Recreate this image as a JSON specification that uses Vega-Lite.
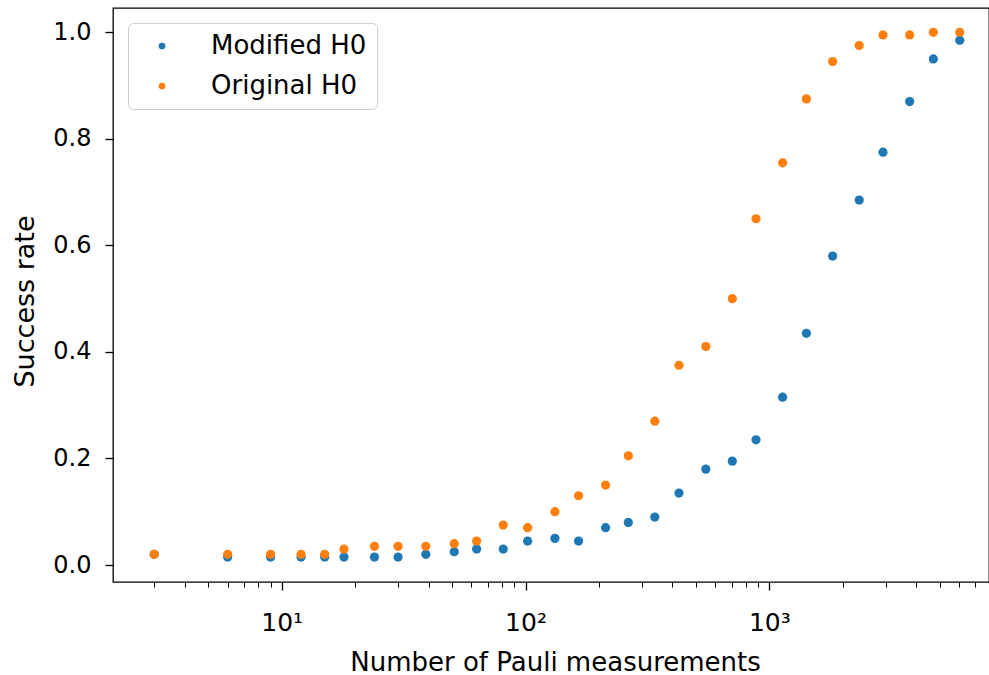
{
  "$schema": "https://vega.github.io/schema/vega-lite/v6.json",
  "width": 876,
  "height": 574,
  "autosize": {"type": "none"},
  "padding": {"left": 113, "top": 8, "right": 0, "bottom": 93},
  "background": "white",
  "config": {
    "view": {"stroke": "#000000", "strokeWidth": 1.3},
    "font": "DejaVu Sans",
    "axis": {"grid": false, "domain": false, "tickColor": "#000000", "labelColor": "#000000", "titleColor": "#000000", "labelFont": "DejaVu Sans", "titleFont": "DejaVu Sans", "titleFontWeight": "normal"}
  },
  "data": {
    "values": [
      {"n": 3, "rate": 0.02, "series": "Modified H0"},
      {"n": 6, "rate": 0.015, "series": "Modified H0"},
      {"n": 9, "rate": 0.015, "series": "Modified H0"},
      {"n": 12, "rate": 0.015, "series": "Modified H0"},
      {"n": 15, "rate": 0.015, "series": "Modified H0"},
      {"n": 18, "rate": 0.015, "series": "Modified H0"},
      {"n": 24, "rate": 0.015, "series": "Modified H0"},
      {"n": 30, "rate": 0.015, "series": "Modified H0"},
      {"n": 39, "rate": 0.02, "series": "Modified H0"},
      {"n": 51, "rate": 0.025, "series": "Modified H0"},
      {"n": 63, "rate": 0.03, "series": "Modified H0"},
      {"n": 81, "rate": 0.03, "series": "Modified H0"},
      {"n": 102, "rate": 0.045, "series": "Modified H0"},
      {"n": 132, "rate": 0.05, "series": "Modified H0"},
      {"n": 165, "rate": 0.045, "series": "Modified H0"},
      {"n": 213, "rate": 0.07, "series": "Modified H0"},
      {"n": 264, "rate": 0.08, "series": "Modified H0"},
      {"n": 339, "rate": 0.09, "series": "Modified H0"},
      {"n": 426, "rate": 0.135, "series": "Modified H0"},
      {"n": 549, "rate": 0.18, "series": "Modified H0"},
      {"n": 705, "rate": 0.195, "series": "Modified H0"},
      {"n": 882, "rate": 0.235, "series": "Modified H0"},
      {"n": 1134, "rate": 0.315, "series": "Modified H0"},
      {"n": 1419, "rate": 0.435, "series": "Modified H0"},
      {"n": 1818, "rate": 0.58, "series": "Modified H0"},
      {"n": 2337, "rate": 0.685, "series": "Modified H0"},
      {"n": 2925, "rate": 0.775, "series": "Modified H0"},
      {"n": 3765, "rate": 0.87, "series": "Modified H0"},
      {"n": 4707, "rate": 0.95, "series": "Modified H0"},
      {"n": 6039, "rate": 0.985, "series": "Modified H0"},
      {"n": 3, "rate": 0.02, "series": "Original H0"},
      {"n": 6, "rate": 0.02, "series": "Original H0"},
      {"n": 9, "rate": 0.02, "series": "Original H0"},
      {"n": 12, "rate": 0.02, "series": "Original H0"},
      {"n": 15, "rate": 0.02, "series": "Original H0"},
      {"n": 18, "rate": 0.03, "series": "Original H0"},
      {"n": 24, "rate": 0.035, "series": "Original H0"},
      {"n": 30, "rate": 0.035, "series": "Original H0"},
      {"n": 39, "rate": 0.035, "series": "Original H0"},
      {"n": 51, "rate": 0.04, "series": "Original H0"},
      {"n": 63, "rate": 0.045, "series": "Original H0"},
      {"n": 81, "rate": 0.075, "series": "Original H0"},
      {"n": 102, "rate": 0.07, "series": "Original H0"},
      {"n": 132, "rate": 0.1, "series": "Original H0"},
      {"n": 165, "rate": 0.13, "series": "Original H0"},
      {"n": 213, "rate": 0.15, "series": "Original H0"},
      {"n": 264, "rate": 0.205, "series": "Original H0"},
      {"n": 339, "rate": 0.27, "series": "Original H0"},
      {"n": 426, "rate": 0.375, "series": "Original H0"},
      {"n": 549, "rate": 0.41, "series": "Original H0"},
      {"n": 705, "rate": 0.5, "series": "Original H0"},
      {"n": 882, "rate": 0.65, "series": "Original H0"},
      {"n": 1134, "rate": 0.755, "series": "Original H0"},
      {"n": 1419, "rate": 0.875, "series": "Original H0"},
      {"n": 1818, "rate": 0.945, "series": "Original H0"},
      {"n": 2337, "rate": 0.975, "series": "Original H0"},
      {"n": 2925, "rate": 0.995, "series": "Original H0"},
      {"n": 3765, "rate": 0.995, "series": "Original H0"},
      {"n": 4707, "rate": 1.0, "series": "Original H0"},
      {"n": 6039, "rate": 1.0, "series": "Original H0"}
    ]
  },
  "mark": {"type": "circle", "size": 85, "opacity": 1},
  "encoding": {
    "x": {
      "field": "n",
      "type": "quantitative",
      "scale": {"type": "log", "domain": [2.032, 7962], "nice": false},
      "axis": {
        "title": "Number of Pauli measurements",
        "titleFontSize": 26,
        "titleX": 442,
        "titleY": 88,
        "titleAlign": "center",
        "titleBaseline": "alphabetic",
        "values": [3,4,5,6,7,8,9,10,20,30,40,50,60,70,80,90,100,200,300,400,500,600,700,800,900,1000,2000,3000,4000,5000,6000,7000],
        "labelExpr": "datum.value == 10 ? '10¹' : datum.value == 100 ? '10²' : datum.value == 1000 ? '10³' : ''",
        "labelFontSize": 25,
        "labelPadding": 20,
        "labelOverlap": false,
        "labelFlush": false,
        "tickSize": {"condition": {"test": "datum.value == 10 || datum.value == 100 || datum.value == 1000", "value": 8}, "value": 5},
        "tickWidth": {"condition": {"test": "datum.value == 10 || datum.value == 100 || datum.value == 1000", "value": 1.3}, "value": 1}
      }
    },
    "y": {
      "field": "rate",
      "type": "quantitative",
      "scale": {"domain": [-0.0319, 1.0456], "nice": false, "zero": false},
      "axis": {
        "title": "Success rate",
        "titleFontSize": 27,
        "titleX": -80,
        "titleY": 293,
        "titleAngle": -90,
        "titleAlign": "center",
        "titleBaseline": "alphabetic",
        "values": [0, 0.2, 0.4, 0.6, 0.8, 1.0],
        "format": ".1f",
        "labelFontSize": 24,
        "labelPadding": 14,
        "tickSize": 8,
        "tickWidth": 1.3
      }
    },
    "color": {
      "field": "series",
      "type": "nominal",
      "scale": {"domain": ["Modified H0", "Original H0"], "range": ["#1f77b4", "#ff7f0e"]},
      "legend": {
        "title": null,
        "orient": "none",
        "legendX": 15,
        "legendY": 15,
        "padding": 10,
        "strokeColor": "#d0d0d0",
        "fillColor": "#ffffff",
        "cornerRadius": 5,
        "symbolType": "circle",
        "symbolSize": 45,
        "symbolOffset": 11,
        "labelOffset": 36,
        "labelFontSize": 26,
        "labelColor": "#000000",
        "rowPadding": 14
      }
    }
  }
}
